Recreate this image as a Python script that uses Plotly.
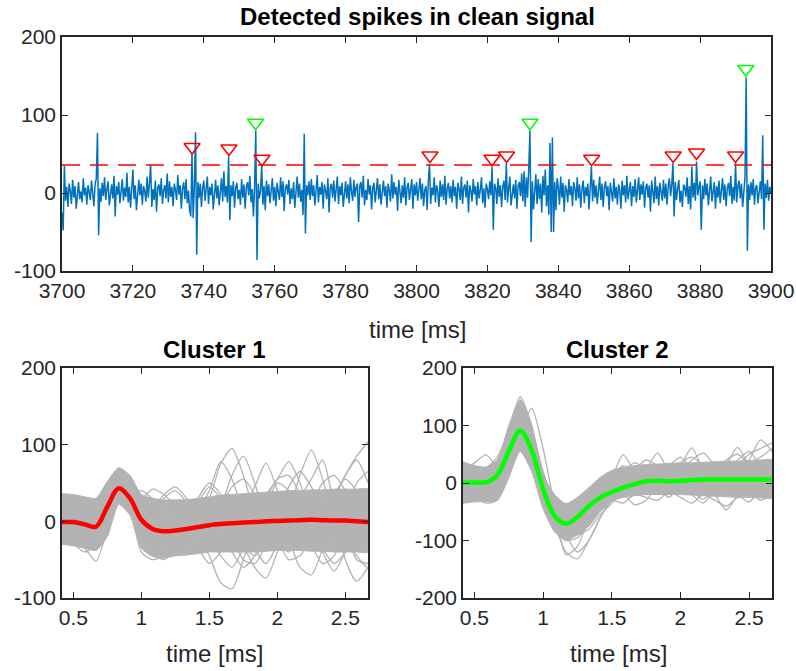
import plotly.graph_objects as go

# ---------------- data ----------------
# clean signal, sampled every 1/3 ms starting at 3700 ms
signal_t0 = 3700.0
signal_fs = 3.0  # samples per ms
signal = [
    -25, -48, 35, -10, 8, -18, 12, 3, -14, 17, -6, 9, -20, 4, 14, -8, 2, -12, 19, -3, 7, -15, 10, 1, -9, 16, -5, -17, 11, 18,
    77, -54, 6, -11, 13, -4, 20, -9, 5, 15, -16, 3, 11, -7, 22, -30, 9, -2, 14, -13, 4, 18, -10, 7, -5, 26, -12, 8, -19, 12,
    30, -8, 10, -22, 6, 17, -3, 12, -15, 9, 2, -11, 21, -6, 13, 36, -18, 5, -9, 16, -24, 7, 11, -4, 19, -14, 3, 10, -7, 25,
    -12, 15, -5, 8, -17, 12, 4, -9, 23, -2, 10, -20, 6, 14, -8, 18, -13, 3, -22, -30, 50, -32, 9, 78, -79, 14, -6, 12, -18, 7,
    16, -10, 5, 21, -14, 8, -3, 12, -21, 6, 17, -7, 10, -16, 3, 19, -11, 28, -5, 9, -12, 47, -35, 10, -4, 15, -19, 7, 13, -8,
    4, -15, 18, -6, 11, -20, 7, 14, -3, 22, -12, 5, -30, 9, 80, -86, 12, -7, 3, 36, -15, 9, -22, 16, -4, 11, -13, 6, 19, -10,
    8, -17, 13, 2, -9, 20, -5, 15, -23, 7, 11, -2, 17, -14, 6, -8, 14, -19, 9, 21, -6, 12, -11, 4, -28, 76, -52, 10, -3, 15,
    -9, 18, -4, 10, -16, 5, 23, -12, 8, -2, 14, -20, 11, 3, -8, 19, -25, 7, 12, -6, 16, -11, 4, 21, -14, 9, -3, 13, -18, 6,
    15, -7, 11, -13, 20, 2, -10, 17, -5, 8, 12, -37, 9, 14, -6, 22, -16, 4, -9, 18, -2, 10, -21, 7, 13, -12, 5, 19, -8, 11,
    -15, 6, 16, -4, 9, -19, 12, 3, -11, 24, -7, 14, -2, 8, -23, 17, 5, -13, 10, -6, 20, -16, 7, 13, -9, 2, 18, -20, 11, -3,
    14, -10, 6, 19, -8, 12, -17, 4, 9, -22, 15, 37, -14, 7, -3, 20, -12, 10, 2, -18, 16, -5, 11, -9, 22, -15, 6, 13, -7, 9,
    -12, 17, -4, 8, -20, 13, 5, -9, 21, -14, 7, 11, -6, 16, -25, 10, 3, -11, 18, -2, 9, -16, 14, -7, 4, 20, -13, 6, -19, 12,
    5, -8, 15, -3, 34, -47, 12, 7, -14, 19, -5, 10, -18, 8, 16, -9, 38, -12, 6, 21, -16, 3, 11, -7, 17, -20, 9, 14, -4, 25,
    -11, 28, -18, 20, -6, 32, 80, -63, 15, -21, 9, 24, -14, 18, -8, 12, -25, 22, -3, 30, -17, 10, -28, 64, -50, 71, -50, 14, -22, 19,
    8, -15, 21, -6, 13, -24, 10, 4, -12, 18, -3, 9, -17, 14, 6, -10, 20, -7, 11, -19, 5, 16, -13, 8, -4, 12, -21, 9, 34, -11,
    17, -6, 10, -14, 3, 21, -9, 12, -18, 7, 15, -4, 9, -22, 13, 2, -11, 19, -7, 8, -15, 11, 4, -20, 16, -3, 10, -12, 22, -8,
    6, 14, -17, 9, -5, 18, -12, 3, 20, -9, 11, -2, 15, -19, 7, 12, -6, 10, -24, 16, 4, -13, 21, -8, 9, -16, 13, 2, -10, 17,
    -7, 12, -15, 8, 19, -4, 10, 38, -30, 14, -9, 6, 17, -12, 3, -18, 11, 7, -5, 20, -14, 9, -21, 34, -6, 13, -10, 40, -3, 8,
    15, -47, 10, -8, 18, -3, 12, -16, 7, 21, -11, 5, 14, -20, 9, -6, 16, -13, 3, 19, -9, 11, -17, 6, 13, -4, 22, -14, 8, -10,
    38, -12, 9, 16, -7, 12, -18, 5, 20, 148, -74, 11, -9, 14, -3, 18, -15, 7, 10, -13, 6, 15, -8, 74, -47, 12, -6, 17, -10, 8,
    0,
]
threshold = 36

# detected spikes (time in ms, marker level)
spikes_c1_t = [3736.7, 3747.1, 3756.4, 3803.8, 3821.3, 3825.4, 3849.4, 3872.4, 3879.0, 3890.0]
spikes_c1_v = [59, 57, 44, 48, 44, 48, 44, 48, 52, 48]
spikes_c2_t = [3754.6, 3832.0, 3892.9]
spikes_c2_v = [90, 90, 159]

# waveform samples: 12 samples per ms, first sample at 5/12 ms
wave_fs = 12.0
wave_first = 5
n_wave = 28

# cluster 1: spread of the waveforms, individual waveforms, mean
c1_upper = [36, 35, 32, 30, 52, 70, 60, 35, 30, 28, 28, 28, 30, 32, 34, 35, 36, 37, 38, 39, 40, 40, 41, 41, 42, 42, 42, 42]
c1_lower = [-30, -32, -35, -38, -20, 22, 8, -35, -46, -48, -45, -44, -42, -40, -40, -40, -40, -40, -39, -38, -38, -38, -39, -39, -40, -40, -40, -40]
c1_waves = [
    [5, 0, -8, -5, 25, 50, 35, 5, -15, -10, -5, 0, 10, 30, 75, 95, 60, 10, -20, -5, 15, 20, 5, -10, -5, 10, 15, 5],
    [-10, -15, -20, -25, 10, 40, 25, -10, -25, -20, -15, -10, -20, -45, -80, -88, -50, -5, 20, 10, -10, -25, -15, 5, 15, 0, -20, -30],
    [0, 5, 0, -10, 20, 45, 30, 0, -10, -5, 0, 5, 0, -10, 0, 20, 30, 10, -20, -30, 10, 60, 93, 55, 0, -30, -20, 10],
    [10, 5, 0, -5, 25, 45, 30, 5, -10, -15, -10, -5, 0, 5, 10, 0, -10, -5, 10, 20, 5, -10, -20, 0, 30, 60, 85, 104],
    [-5, -10, -15, -20, 15, 40, 30, 0, -15, -20, -10, 0, 15, 40, 78, 55, 10, -35, -55, -30, 5, 20, 10, -5, -10, 0, 5, 0],
    [5, 10, 5, 0, 30, 55, 40, 10, -5, -10, -5, -10, -20, -10, 5, 10, 20, 45, 76, 40, -20, -60, -70, -35, 10, 30, 20, 0],
    [-10, -5, 0, -5, 20, 40, 25, -5, -20, -15, -10, -5, 0, 10, 5, -10, -5, 15, 35, 55, 78, 50, 0, -40, -65, -40, -10, 10],
    [0, -5, -10, -15, 15, 35, 25, -5, -20, -25, -15, -5, 5, 10, 20, 10, -30, -60, -74, -40, 0, 30, 55, 80, 20, -50, -78, -60],
    [-5, 0, 5, 0, 25, 50, 35, 10, -5, -10, -15, -10, -5, 0, 20, 60, 85, 50, 0, -30, -20, 0, 15, 20, 30, 60, 80, 50],
    [-20, -25, -35, -52, -10, 30, 30, 40, 30, 25, 15, 5, 0, -10, -20, -40, -60, -45, -10, 10, 5, -10, -25, -40, -30, -20, -45, -62],
    [20, 25, 15, 5, 40, 65, 50, 30, 42, 35, 20, 10, 25, 45, 30, 5, -20, -10, 20, 50, 40, 10, -15, 5, 35, 55, 40, 20],
    [-25, -30, -40, -30, -5, 30, 15, -40, -50, -45, -30, -20, -35, -55, -40, -15, 10, 30, 15, -20, -50, -45, -20, 10, 20, -10, -50, -55],
    [10, 20, 25, 10, 35, 60, 45, 20, 10, 30, 40, 25, 5, -20, -45, -60, -35, 0, 30, 55, 60, 35, -5, -35, -55, -40, 0, 40],
    [-15, -5, 10, 20, 45, 68, 55, 10, -30, -40, -25, 0, 30, 50, 35, 0, -30, -45, -25, 10, 45, 65, 45, 15, -10, 10, 50, 65],
    [30, 20, 5, -15, 20, 55, 40, -15, -40, -50, -35, -15, 5, 20, 10, -20, -50, -55, -30, 5, 25, 10, -30, -55, -45, -10, 25, 30],
    [0, 15, 30, 25, 50, 60, 30, -10, 15, 35, 45, 30, 10, -5, 20, 45, 55, 35, 0, -25, -40, -20, 20, 50, 60, 40, 10, -20],
]
c1_mean = [-1, -1, -4, -7, 19, 43, 30, 2, -10, -13, -12, -10, -7.5, -5, -3.5, -2.5, -1.5, -1, 0, 0.5, 1, 1.5, 2, 1.5, 1, 1, 0, -1]

# cluster 2
c2_upper = [37, 30, 28, 40, 100, 145, 100, 15, -20, -36, -25, -8, 10, 22, 27, 30, 32, 33, 34, 35, 35, 36, 37, 38, 38, 39, 40, 40]
c2_lower = [-35, -33, -32, -30, 15, 55, 20, -45, -85, -100, -90, -75, -50, -32, -25, -22, -20, -20, -20, -20, -21, -22, -23, -24, -25, -25, -26, -26]
c2_waves = [
    [5, 10, 5, 0, 20, 80, 130, 60, -40, -125, -110, -60, -20, -10, 0, 5, 10, 5, 0, -5, 5, 10, 5, 0, 5, 10, 5, 0],
    [0, 5, 0, 10, 90, 150, 100, 10, -60, -95, -80, -55, -30, -10, 0, 5, 10, 5, 0, 10, 5, 0, -5, 0, 5, 0, -5, 0],
    [-15, -20, -25, -20, 12, 60, 80, 20, -40, -90, -120, -100, -60, -25, -5, 10, 15, 5, -10, 0, 10, 5, -5, -10, 0, 15, 20, 10],
    [10, 15, 10, 15, 60, 100, 60, -5, -50, -75, -60, -40, -20, 10, 49, 20, 0, 5, 10, 30, 61, 20, -10, 0, 15, 40, 75, 55],
    [-10, -5, -15, -10, 40, 85, 50, -20, -60, -80, -70, -45, -20, -5, 5, 10, 25, 52, 20, 0, -20, -35, -10, 30, 62, 30, 0, 10],
    [20, 35, 49, 30, 70, 110, 70, 0, -50, -70, -60, -35, -15, 0, 10, 5, 0, -10, -5, 10, 20, 5, -20, -47, -20, 10, 20, 15],
    [-25, -30, -20, -25, 30, 75, 50, -10, -60, -85, -75, -60, -45, -30, -20, -38, -30, -5, 10, 20, 40, 52, 30, 0, -20, -33, -10, 5],
    [5, 0, -5, 0, 50, 120, 90, 10, -50, -95, -85, -60, -30, -10, 0, 10, 15, 20, 10, 0, 15, 30, 20, 10, 30, 50, 60, 70],
    [0, -5, 0, 5, 40, 95, 75, 10, -70, -120, -132, -100, -60, -30, -10, -5, 0, 5, 10, 5, 0, -5, 0, 5, 10, 5, 0, -5],
    [25, 30, 20, 25, 70, 115, 80, 0, -50, -60, -55, -30, -5, 15, 30, 25, 40, 30, 15, 35, 45, 30, 20, 40, 50, 35, 45, 60],
    [-30, -25, -35, -30, 10, 60, 45, -25, -75, -100, -95, -70, -40, -30, -35, -20, -25, -30, -15, -25, -35, -20, -30, -40, -25, -15, -30, -20],
    [15, 5, 25, 45, 90, 135, 95, 10, -55, -85, -80, -65, -20, 5, 20, 35, 25, 10, 30, 45, 25, 20, 35, 20, 40, 55, 30, 20],
    [-5, 10, -10, -25, 20, 80, 60, -5, -55, -88, -90, -80, -55, -35, -15, -5, -20, -10, -25, -5, -15, -28, -10, 0, -20, -10, -22, -15],
]
c2_mean = [1, 1, 1, 14, 55, 91, 57, -10, -57, -71, -59, -40, -25, -16, -8, -2, 3, 4, 3, 4, 5, 6, 6, 6, 6, 6, 6, 6]

# ---------------- styling ----------------
FONT = "Liberation Sans, Arial, Helvetica, sans-serif"
AX_COLOR = "#262626"
GRAY = "#b3b3b3"
BLUE = "#0072BD"
RED = "#ff0000"
GREEN = "#00ff00"
W, H = 796, 671

sig_t = [signal_t0 + i / signal_fs for i in range(len(signal))]
wave_t = [(wave_first + k) / wave_fs for k in range(n_wave)]

fig = go.Figure()

# top panel
fig.add_trace(go.Scatter(x=sig_t, y=signal, mode="lines",
                         line=dict(color=BLUE, width=1.5), xaxis="x", yaxis="y"))
fig.add_trace(go.Scatter(x=[sig_t[0], sig_t[-1]], y=[threshold, threshold], mode="lines",
                         line=dict(color=RED, width=1.5, dash="18px,10px"), xaxis="x", yaxis="y"))
fig.add_trace(go.Scatter(x=spikes_c1_t, y=spikes_c1_v, mode="markers",
                         marker=dict(symbol="triangle-down-open", size=14, color=RED,
                                     line=dict(width=1.6, color=RED)),
                         xaxis="x", yaxis="y"))
fig.add_trace(go.Scatter(x=spikes_c2_t, y=spikes_c2_v, mode="markers",
                         marker=dict(symbol="triangle-down-open", size=14, color=GREEN,
                                     line=dict(width=1.6, color=GREEN)),
                         xaxis="x", yaxis="y"))


def add_cluster(upper, lower, waves, mean, color, xa, ya):
    fig.add_trace(go.Scatter(x=wave_t + wave_t[::-1], y=upper + lower[::-1],
                             mode="lines", fill="toself", fillcolor=GRAY,
                             line=dict(color=GRAY, width=1, shape="spline", smoothing=0.6),
                             xaxis=xa, yaxis=ya))
    for w in waves:
        fig.add_trace(go.Scatter(x=wave_t, y=w, mode="lines",
                                 line=dict(color=GRAY, width=1.3, shape="spline", smoothing=0.7),
                                 xaxis=xa, yaxis=ya))
    fig.add_trace(go.Scatter(x=wave_t, y=mean, mode="lines",
                             line=dict(color=color, width=4.5, shape="spline", smoothing=1.0),
                             xaxis=xa, yaxis=ya))


add_cluster(c1_upper, c1_lower, c1_waves, c1_mean, RED, "x2", "y2")
add_cluster(c2_upper, c2_lower, c2_waves, c2_mean, GREEN, "x3", "y3")


def ax(domain, rng, tickvals, anchor):
    ticktext = ["%g" % v for v in tickvals]
    return dict(domain=domain, range=rng, tickmode="array", tickvals=tickvals, ticktext=ticktext,
                ticks="inside", ticklen=6, tickwidth=1.3, tickcolor=AX_COLOR,
                showline=True, linecolor=AX_COLOR, linewidth=1.5, mirror="ticks",
                showgrid=False, zeroline=False, anchor=anchor, automargin=False,
                tickfont=dict(family=FONT, size=21, color=AX_COLOR))


def px_x(p):
    return p / W


def px_y(p):
    return 1 - p / H


top_x = [px_x(62), px_x(771)]
top_y = [px_y(271), px_y(37)]
bl_x = [px_x(62), px_x(368)]
br_x = [px_x(463), px_x(772)]
bot_y = [px_y(598), px_y(368)]

wave_range = [wave_t[0], wave_t[-1]]
wave_ticks = [0.5, 1, 1.5, 2, 2.5]

fig.update_layout(
    width=W, height=H,
    margin=dict(l=0, r=0, t=0, b=0, autoexpand=False),
    paper_bgcolor="white", plot_bgcolor="white",
    showlegend=False,
    xaxis=ax(top_x, [3700, 3900], list(range(3700, 3901, 20)), "y"),
    yaxis=ax(top_y, [-100, 200], [-100, 0, 100, 200], "x"),
    xaxis2=ax(bl_x, wave_range, wave_ticks, "y2"),
    yaxis2=ax(bot_y, [-100, 200], [-100, 0, 100, 200], "x2"),
    xaxis3=ax(br_x, wave_range, wave_ticks, "y3"),
    yaxis3=ax(bot_y, [-200, 200], [-200, -100, 0, 100, 200], "x3"),
)

texts = [
    ("Detected spikes in clean signal", 417, 17, True),
    ("time [ms]", 417, 329, False),
    ("Cluster 1", 214, 349, True),
    ("time [ms]", 215, 653, False),
    ("Cluster 2", 617, 349, True),
    ("time [ms]", 618, 653, False),
]
for txt, x, y, bold in texts:
    fig.add_annotation(text=f"<b>{txt}</b>" if bold else txt,
                       x=px_x(x), y=px_y(y), xref="paper", yref="paper",
                       xanchor="center", yanchor="middle", showarrow=False,
                       font=dict(family=FONT, size=24, color="black" if bold else AX_COLOR))

fig.write_html("out.html")
